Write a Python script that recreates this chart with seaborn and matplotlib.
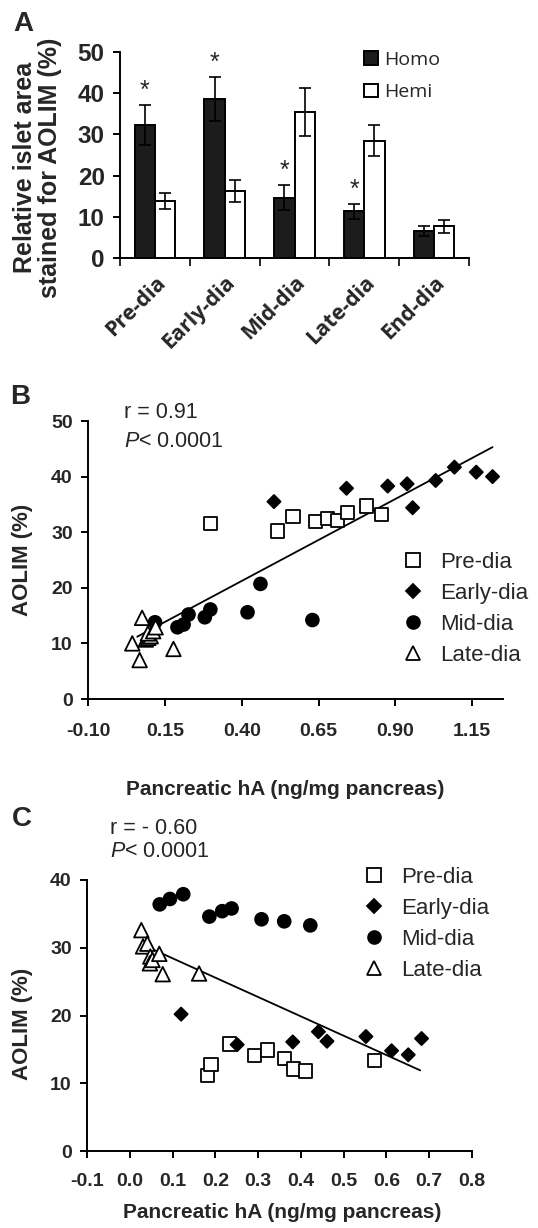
import numpy as np
import pandas as pd
import matplotlib
matplotlib.use('Agg')
import matplotlib.pyplot as plt
import seaborn as sns

# ---- panel A : bars ----
stages = ['Pre-dia', 'Early-dia', 'Mid-dia', 'Late-dia', 'End-dia']
homo_mean = [32.3, 38.5, 14.7, 11.4, 6.7]
homo_err = [4.9, 5.3, 3.0, 1.8, 1.2]
hemi_mean = [13.8, 16.3, 35.5, 28.5, 7.7]
hemi_err = [1.9, 2.6, 5.8, 3.8, 1.6]
homo_star = [True, True, True, True, False]

# ---- panel B : AOLIM vs pancreatic hA ----
b_pre_x = [0.299, 0.516, 0.567, 0.639, 0.678, 0.711, 0.743, 0.805, 0.855]
b_pre_y = [31.5, 30.2, 32.8, 31.9, 32.5, 32.1, 33.6, 34.7, 33.2]
b_early_x = [0.505, 0.741, 0.875, 0.938, 0.956, 1.031, 1.092, 1.163, 1.216]
b_early_y = [35.5, 37.9, 38.3, 38.7, 34.4, 39.3, 41.7, 40.8, 40.0]
b_mid_x = [0.118, 0.191, 0.211, 0.227, 0.280, 0.298, 0.419, 0.461, 0.630]
b_mid_y = [13.8, 12.9, 13.4, 15.2, 14.7, 16.1, 15.6, 20.7, 14.2]
b_late_x = [0.076, 0.044, 0.068, 0.178, 0.088, 0.096, 0.104, 0.095, 0.112, 0.120]
b_late_y = [14.6, 10.0, 7.0, 9.0, 10.7, 11.0, 11.3, 11.8, 12.2, 12.9]
b_fit_x = [0.06, 1.216]
b_fit_y = [11.2, 45.3]
b_xticks = [-0.10, 0.15, 0.40, 0.65, 0.90, 1.15]
b_xlabels = ['-0.10', '0.15', '0.40', '0.65', '0.90', '1.15']

# ---- panel C ----
c_pre_x = [0.181, 0.190, 0.233, 0.291, 0.321, 0.361, 0.382, 0.411, 0.573]
c_pre_y = [11.2, 12.8, 15.8, 14.1, 14.9, 13.6, 12.1, 11.8, 13.3]
c_early_x = [0.120, 0.251, 0.381, 0.441, 0.461, 0.552, 0.612, 0.651, 0.682]
c_early_y = [20.2, 15.7, 16.1, 17.6, 16.2, 16.9, 14.8, 14.2, 16.6]
c_mid_x = [0.070, 0.094, 0.125, 0.186, 0.216, 0.238, 0.308, 0.361, 0.422]
c_mid_y = [36.4, 37.2, 37.9, 34.6, 35.4, 35.8, 34.2, 33.9, 33.3]
c_late_x = [0.027, 0.031, 0.041, 0.048, 0.047, 0.053, 0.069, 0.077, 0.162]
c_late_y = [32.6, 30.2, 30.6, 28.7, 27.7, 28.2, 29.1, 26.1, 26.2]
c_fit_x = [0.035, 0.679]
c_fit_y = [30.3, 11.9]
c_xticks = [-0.1, 0.0, 0.1, 0.2, 0.3, 0.4, 0.5, 0.6, 0.7, 0.8]
c_xlabels = ['-0.1', '0.0', '0.1', '0.2', '0.3', '0.4', '0.5', '0.6', '0.7', '0.8']

groups = ['Pre-dia', 'Early-dia', 'Mid-dia', 'Late-dia']
marker_map = {'Pre-dia': 's', 'Early-dia': 'D', 'Mid-dia': 'o', 'Late-dia': '^'}
color_map = {'Pre-dia': 'white', 'Early-dia': 'black', 'Mid-dia': 'black', 'Late-dia': 'white'}
size_map = {'Pre-dia': 90, 'Early-dia': 45, 'Mid-dia': 85, 'Late-dia': 110}

sns.set_style('ticks')
plt.rcParams['font.family'] = ['Liberation Sans', 'DejaVu Sans']
plt.rcParams['axes.unicode_minus'] = False
plt.rcParams['mathtext.fontset'] = 'custom'
plt.rcParams['mathtext.it'] = 'Liberation Sans:italic'
plt.rcParams['mathtext.rm'] = 'Liberation Sans'

fig = plt.figure(figsize=(5.38, 12.28), dpi=100)
W, H = 538, 1228


def add_ax(l, t, r, b):
    return fig.add_axes([l / W, 1 - b / H, (r - l) / W, (b - t) / H])


axA = add_ax(120, 51.7, 469, 258.3)
axB = add_ax(88, 421, 503, 699)
axC = add_ax(87, 880, 472, 1151)

for ax in (axA, axB, axC):
    sns.despine(ax=ax)
    for s in ('left', 'bottom'):
        ax.spines[s].set_linewidth(1.4)
        ax.spines[s].set_color('black')
    ax.tick_params(width=1.4, length=5, color='black', direction='out')

# ---------- A ----------
dfA = pd.DataFrame({
    'stage': stages * 2,
    'geno': ['Homo'] * 5 + ['Hemi'] * 5,
    'val': homo_mean + hemi_mean,
})
sns.barplot(data=dfA, x='stage', y='val', hue='geno', order=stages,
            hue_order=['Homo', 'Hemi'], palette={'Homo': '#1c1c1c', 'Hemi': 'white'},
            edgecolor='black', linewidth=1.4, width=0.58, errorbar=None, ax=axA)
for cont, means, errs in zip(axA.containers, [homo_mean, hemi_mean], [homo_err, hemi_err]):
    xs = [b.get_x() + b.get_width() / 2 for b in cont]
    axA.errorbar(xs, means, yerr=errs, fmt='none', ecolor='black', elinewidth=1.2,
                 capsize=4.5, capthick=1.2, zorder=5)
    if means is homo_mean:
        for x, m, e, st in zip(xs, means, errs, homo_star):
            if st:
                axA.text(x, m + e + 3.4, '*', ha='center', va='center', fontsize=18)
axA.set_xlim(-0.5, 4.5)
axA.set_ylim(0, 50)
axA.set_yticks([0, 10, 20, 30, 40, 50])
axA.set_xticks(np.arange(-0.5, 5, 1), minor=True)
axA.tick_params(axis='x', which='major', length=0, pad=10)
axA.tick_params(axis='x', which='minor', length=6, width=1.4)
axA.set_xticklabels(stages, rotation=45, ha='right', rotation_mode='anchor',
                    fontfamily='Open Sans', fontweight='bold', fontsize=15.5)
for lab in axA.get_yticklabels():
    lab.set_fontweight('bold')
    lab.set_fontsize(17.5)
axA.tick_params(axis='y', pad=6)
axA.set_xlabel('')
axA.set_ylabel('Relative islet area\nstained for AOLIM (%)', fontweight='bold',
               fontsize=18, linespacing=1.05)
axA.yaxis.set_label_coords(-0.165, 0.44)
h, l = axA.get_legend_handles_labels()
axA.legend(h, l, loc='upper left', bbox_to_anchor=(0.70, 1.005), frameon=False,
           borderpad=0, borderaxespad=0, handlelength=0.7, handleheight=0.7,
           handletextpad=0.3, labelspacing=0.75, prop={'family': 'Open Sans', 'size': 14})

# ---------- B and C ----------
def scatter_panel(ax, xs, ys, fit_x, fit_y):
    df = pd.DataFrame({
        'x': sum(xs, []),
        'y': sum(ys, []),
        'stage': sum([[g] * len(v) for g, v in zip(groups, xs)], []),
    })
    sns.lineplot(x=fit_x, y=fit_y, color='black', linewidth=1.3, ax=ax, legend=False)
    sns.scatterplot(data=df, x='x', y='y', hue='stage', style='stage', size='stage',
                    hue_order=groups, style_order=groups, size_order=groups,
                    palette=color_map, markers=marker_map, sizes=size_map,
                    edgecolor='black', linewidth=1.3, ax=ax, zorder=3)
    ax.set_xlabel('Pancreatic hA (ng/mg pancreas)', fontweight='bold', fontsize=15)
    ax.set_ylabel('AOLIM (%)', fontweight='bold', fontsize=16)


scatter_panel(axB, [b_pre_x, b_early_x, b_mid_x, b_late_x],
              [b_pre_y, b_early_y, b_mid_y, b_late_y], b_fit_x, b_fit_y)
axB.set_xlim(-0.10, 1.25)
axB.set_ylim(0, 50)
axB.set_xticks(b_xticks)
axB.set_xticklabels(b_xlabels, fontweight='bold', fontsize=14)
axB.set_yticks([0, 10, 20, 30, 40, 50])
axB.set_yticklabels([0, 10, 20, 30, 40, 50], fontweight='bold', fontsize=14)
axB.tick_params(axis='x', pad=12.5)
axB.tick_params(axis='y', pad=6)
axB.xaxis.set_label_coords(0.475, -0.291)
axB.yaxis.set_label_coords(-0.133, 0.5)
axB.text(0.087, 1.029, 'r = 0.91', transform=axB.transAxes, fontsize=15.5, va='center')
axB.text(0.087, 0.928, '$P$< 0.0001', transform=axB.transAxes, fontsize=15.5, va='center')
h, l = axB.get_legend_handles_labels()
axB.legend(h, l, loc='upper left', bbox_to_anchor=(0.757, 0.528), frameon=False,
           borderpad=0, borderaxespad=0, handlelength=1.0, handletextpad=0.73,
           labelspacing=0.45, fontsize=16)

scatter_panel(axC, [c_pre_x, c_early_x, c_mid_x, c_late_x],
              [c_pre_y, c_early_y, c_mid_y, c_late_y], c_fit_x, c_fit_y)
axC.set_xlim(-0.1, 0.8)
axC.set_ylim(0, 40)
axC.set_xticks(c_xticks)
axC.set_xticklabels(c_xlabels, fontweight='bold', fontsize=14)
axC.set_yticks([0, 10, 20, 30, 40])
axC.set_yticklabels([0, 10, 20, 30, 40], fontweight='bold', fontsize=14)
axC.tick_params(axis='x', pad=11)
axC.tick_params(axis='y', pad=6)
axC.xaxis.set_label_coords(0.508, -0.192)
axC.yaxis.set_label_coords(-0.140, 0.47)
axC.text(0.06, 1.19, 'r = - 0.60', transform=axC.transAxes, fontsize=15.5, va='center')
axC.text(0.06, 1.105, '$P$< 0.0001', transform=axC.transAxes, fontsize=15.5, va='center')
h, l = axC.get_legend_handles_labels()
axC.legend(h, l, loc='upper left', bbox_to_anchor=(0.717, 1.048), frameon=False,
           borderpad=0, borderaxespad=0, handlelength=1.0, handletextpad=0.73,
           labelspacing=0.45, fontsize=16)

# panel letters
for letter, (px, py) in zip('ABC', [(23, 24), (20, 397), (22, 819)]):
    fig.text(px / W, 1 - py / H, letter, fontsize=20, fontweight='bold',
             ha='center', va='center')

fig.savefig('out.png', dpi=100)
